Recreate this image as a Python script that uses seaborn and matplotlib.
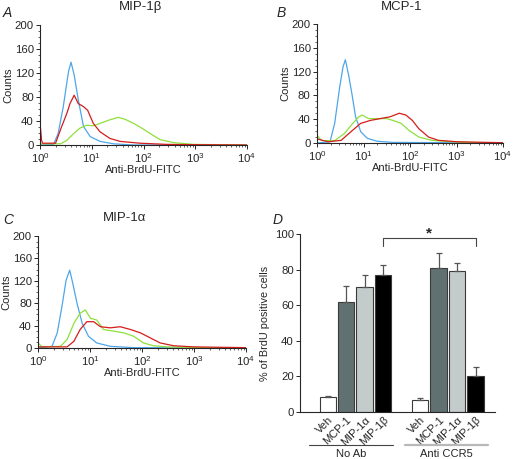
import numpy as np
import pandas as pd
import matplotlib
matplotlib.use('Agg')
import matplotlib.pyplot as plt
from matplotlib.ticker import MultipleLocator, LogLocator, NullFormatter
import seaborn as sns

# histogram curves: x in decades (log10), y in counts
a_blue_dec = [0.0, 0.26, 0.35, 0.45, 0.55, 0.60, 0.66, 0.74, 0.84, 0.97, 1.16, 1.42, 1.8, 4.0]
a_blue_cnt = [0, 1, 19, 64, 122, 138, 117, 75, 31, 14, 6, 2, 0, 0]
a_red_dec = [0.0, 0.01, 0.03, 0.05, 0.3, 0.42, 0.52, 0.58, 0.66, 0.74, 0.84, 0.92, 1.03, 1.16, 1.35, 1.55, 1.93, 2.45, 3.0, 4.0]
a_red_cnt = [3, 28, 8, 3, 3, 31, 53, 69, 83, 69, 64, 58, 36, 22, 11, 6, 3, 1, 0.5, 0]
a_green_dec = [0.0, 0.4, 0.52, 0.65, 0.77, 0.90, 1.03, 1.16, 1.35, 1.51, 1.64, 1.81, 1.97, 2.13, 2.32, 2.58, 2.97, 4.0]
a_green_cnt = [2, 2, 8, 19, 28, 33, 32, 36, 42, 46, 43, 36, 28, 19, 9, 4, 1, 0]

b_blue_dec = [0.0, 0.28, 0.38, 0.49, 0.56, 0.61, 0.68, 0.75, 0.83, 0.94, 1.08, 1.29, 1.63, 4.0]
b_blue_cnt = [0, 2, 33, 95, 128, 140, 114, 83, 44, 19, 8, 3, 1, 0]
b_green_dec = [0.0, 0.1, 0.38, 0.59, 0.77, 0.90, 0.97, 1.11, 1.29, 1.50, 1.63, 1.81, 1.98, 2.19, 2.47, 2.89, 3.58, 4.0]
b_green_cnt = [13, 4, 4, 16, 33, 44, 47, 41, 41, 41, 38, 33, 21, 10, 4.5, 2, 0.5, 0]
b_red_dec = [0.0, 0.24, 0.52, 0.73, 0.94, 1.15, 1.36, 1.57, 1.77, 1.91, 2.05, 2.19, 2.40, 2.61, 3.03, 4.0]
b_red_cnt = [7, 2, 4.5, 19, 33, 38, 41, 44, 50, 47, 38, 24, 10, 4.5, 2, 0.5]

c_blue_dec = [0.0, 0.27, 0.37, 0.46, 0.54, 0.61, 0.67, 0.75, 0.85, 0.97, 1.13, 1.39, 1.84, 4.0]
c_blue_cnt = [0, 3, 27, 74, 121, 139, 115, 80, 44, 21, 9, 3, 0.6, 0]
c_green_dec = [0.0, 0.08, 0.43, 0.56, 0.69, 0.81, 0.91, 1.01, 1.13, 1.26, 1.46, 1.65, 1.84, 2.03, 2.22, 2.48, 3.12, 4.0]
c_green_cnt = [9, 2, 3, 15, 44, 62, 68, 53, 50, 33, 30, 27, 21, 9, 4, 2, 0.6, 0]
c_red_dec = [0.0, 0.56, 0.69, 0.81, 0.94, 1.07, 1.20, 1.39, 1.58, 1.78, 1.97, 2.16, 2.35, 2.61, 2.99, 4.0]
c_red_cnt = [2, 2, 12, 33, 47, 47, 38, 36, 38, 33, 27, 18, 9, 4, 2, 0.6]

# bar panel D
bar_names = ['Veh', 'MCP-1', 'MIP-1\u03b1', 'MIP-1\u03b2'] * 2
bar_pos = [0, 1, 2, 3, 5, 6, 7, 8]
bar_vals = [8.5, 62, 70, 77, 6.5, 81, 79, 20.5]
bar_err = [0.6, 9, 7, 5.5, 1.3, 8.5, 4.5, 5]

curve_colors = {'blue': '#4ea6ea', 'red': '#d41c1c', 'green': '#8ee03c'}
bar_colors = {'Veh': 'white', 'MCP-1': '#5f7272', 'MIP-1\u03b1': '#c3cdcc', 'MIP-1\u03b2': 'black'}

sns.set_style('ticks')
plt.rcParams['font.family'] = ['Liberation Sans', 'DejaVu Sans']
plt.rcParams['mathtext.fontset'] = 'custom'
plt.rcParams['mathtext.rm'] = 'Liberation Sans'
plt.rcParams['axes.linewidth'] = 0.8

fig = plt.figure(figsize=(5.15, 4.59), dpi=100)
W, H = 515, 459


def px_axes(l, t, r, b):
    return fig.add_axes([l / W, 1 - b / H, (r - l) / W, (b - t) / H])


def make_df(curves):
    rows = []
    for name, dec, cnt in curves:
        for d, c in zip(dec, cnt):
            rows.append({'x': 10 ** d, 'count': c, 'stain': name})
    return pd.DataFrame(rows)


def hist_panel(ax, curves):
    df = make_df(curves)
    sns.lineplot(data=df, x='x', y='count', hue='stain', palette=curve_colors,
                 estimator=None, sort=False, legend=False, lw=0.9, ax=ax)
    ax.set_xscale('log')
    ax.set_xlim(1, 1e4)
    ax.set_ylim(0, 200)
    ax.set_yticks([0, 40, 80, 120, 160, 200])
    ax.yaxis.set_minor_locator(MultipleLocator(10))
    ax.xaxis.set_minor_locator(LogLocator(base=10, subs=np.arange(2, 10)))
    ax.xaxis.set_minor_formatter(NullFormatter())
    ax.set_xticks([1, 10, 100, 1000, 10000])
    ax.set_xticklabels([r'$10^{%d}$' % i for i in range(5)])
    ax.set_xlabel('Anti-BrdU-FITC', fontsize=8, labelpad=0)
    ax.set_ylabel('Counts', fontsize=8, labelpad=1)
    ax.tick_params(axis='both', which='major', labelsize=8.2, length=3, width=0.7, pad=1.5)
    ax.tick_params(axis='both', which='minor', length=1.5, width=0.5)
    sns.despine(ax=ax)


axA = px_axes(40, 25, 247, 145)
hist_panel(axA, [('blue', a_blue_dec, a_blue_cnt), ('green', a_green_dec, a_green_cnt),
                 ('red', a_red_dec, a_red_cnt)])
axB = px_axes(317, 24, 503, 143)
hist_panel(axB, [('blue', b_blue_dec, b_blue_cnt), ('green', b_green_dec, b_green_cnt),
                 ('red', b_red_dec, b_red_cnt)])
axC = px_axes(38, 236, 246, 348)
hist_panel(axC, [('blue', c_blue_dec, c_blue_cnt), ('green', c_green_dec, c_green_cnt),
                 ('red', c_red_dec, c_red_cnt)])

# bar chart
axD = px_axes(300, 234, 495, 412)
bars = pd.DataFrame({'pos': bar_pos, 'value': bar_vals, 'name': bar_names})
sns.barplot(data=bars, x='pos', y='value', hue='name', palette=bar_colors,
            native_scale=True, width=0.89, errorbar=None, legend=False,
            edgecolor='#3a3a3a', linewidth=0.8, ax=axD)
axD.errorbar(bar_pos, bar_vals, yerr=[np.zeros(len(bar_err)), bar_err], fmt='none',
             ecolor='#555555', elinewidth=0.9, capsize=2.5, capthick=0.9)
axD.set_xlim(-1.5, 9.05)
axD.set_ylim(0, 100)
axD.set_yticks([0, 20, 40, 60, 80, 100])
axD.set_xticks(bar_pos)
axD.set_xticklabels(bar_names, rotation=45, ha='right', rotation_mode='anchor')
axD.tick_params(axis='x', length=0, labelsize=8, pad=2)
axD.tick_params(axis='y', labelsize=8.2, length=3, width=0.7, pad=1.5)
axD.set_xlabel('')
axD.set_ylabel('% of BrdU positive cells', fontsize=7.8, labelpad=3)
sns.despine(ax=axD)

# group lines and labels under the bars
trans = axD.get_xaxis_transform()
axD.plot([-1.0, 3.54], [-0.185, -0.185], color='#444444', lw=0.8, transform=trans, clip_on=False)
axD.plot([4.19, 8.68], [-0.185, -0.185], color='#b8b8b8', lw=1.6, transform=trans, clip_on=False)
axD.text(1.27, -0.21, 'No Ab', transform=trans, ha='center', va='top', fontsize=8)
axD.text(6.43, -0.21, 'Anti CCR5', transform=trans, ha='center', va='top', fontsize=8)

# significance bracket
axD.plot([3, 3, 8, 8], [93.5, 97.8, 97.8, 93.5], color='#444444', lw=0.8, clip_on=False)
axD.text(5.5, 96.5, '*', ha='center', va='bottom', fontsize=11, fontweight='bold')

# panel letters and titles
fig.text(3 / W, 1 - 13 / H, 'A', fontsize=10, style='italic', va='center')
fig.text(140 / W, 1 - 7 / H, 'MIP-1\u03b2', fontsize=9.5, ha='center', va='center')
fig.text(277 / W, 1 - 13 / H, 'B', fontsize=10, style='italic', va='center')
fig.text(402 / W, 1 - 7 / H, 'MCP-1', fontsize=9.5, ha='center', va='center')
fig.text(3 / W, 1 - 220 / H, 'C', fontsize=10, style='italic', va='center')
fig.text(125 / W, 1 - 218 / H, 'MIP-1\u03b1', fontsize=9.5, ha='center', va='center')
fig.text(273 / W, 1 - 220 / H, 'D', fontsize=10, style='italic', va='center')

fig.savefig('out.png', dpi=100)
